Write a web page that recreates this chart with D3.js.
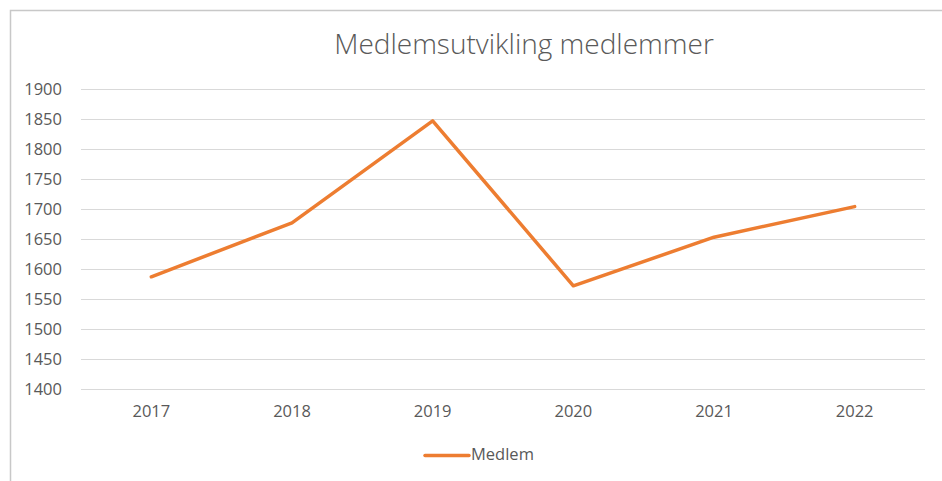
<!DOCTYPE html>
<html>
<head>
<meta charset="utf-8">
<script src="https://cdn.jsdelivr.net/npm/d3@7"></script>
<style>
  body { margin: 0; background: #fff; }
  text { font-family: 'Open Sans', 'Liberation Sans', sans-serif; fill: #595959; }
</style>
</head>
<body>
<div id="chart"></div>
<script>
// data
var years = ['2017', '2018', '2019', '2020', '2021', '2022']
var members = [1587, 1677, 1847, 1572, 1653, 1704]
var yTicks = [1400, 1450, 1500, 1550, 1600, 1650, 1700, 1750, 1800, 1850, 1900]
var seriesName = 'Medlem'
var title = 'Medlemsutvikling medlemmer'

var width = 942
var height = 481
var margin = { top: 89, right: 17, bottom: 92, left: 81 }

var svg = d3.select('#chart')
  .append('svg')
  .attr('width', width)
  .attr('height', height)

// chart border (only top and left show in the picture)
svg.append('rect')
  .attr('x', 10.5)
  .attr('y', 10.5)
  .attr('width', 960)
  .attr('height', 500)
  .attr('fill', 'none')
  .attr('stroke', '#c8c8c8')
  .attr('stroke-width', 1.5)

var x = d3.scaleBand()
  .domain(years)
  .range([margin.left, width - margin.right])

var y = d3.scaleLinear()
  .domain([1400, 1900])
  .range([height - margin.bottom, margin.top])

// gridlines
svg.append('g')
  .selectAll('line')
  .data(yTicks)
  .enter()
  .append('line')
  .attr('x1', margin.left)
  .attr('x2', width - margin.right)
  .attr('y1', function (d) { return Math.round(y(d)) + 0.5 })
  .attr('y2', function (d) { return Math.round(y(d)) + 0.5 })
  .attr('stroke', '#d9d9d9')
  .attr('stroke-width', 1)

// y axis labels
var yAxis = svg.append('g')
  .attr('transform', 'translate(' + (margin.left - 19) + ',0)')
  .call(d3.axisLeft(y).tickValues(yTicks).tickSize(0).tickPadding(0).tickFormat(d3.format('d')))
yAxis.select('.domain').remove()
yAxis.selectAll('text')
  .attr('font-size', 16.5)
  .attr('dy', '0.35em')

// x axis labels
var xAxis = svg.append('g')
  .attr('transform', 'translate(0,' + (height - margin.bottom) + ')')
  .call(d3.axisBottom(x).tickSize(0).tickPadding(16))
xAxis.select('.domain').remove()
xAxis.selectAll('text')
  .attr('font-size', 16.5)

// line
var line = d3.line()
  .x(function (d, i) { return x(years[i]) + x.bandwidth() / 2 })
  .y(function (d) { return y(d) })

svg.append('path')
  .datum(members)
  .attr('d', line)
  .attr('fill', 'none')
  .attr('stroke', '#ed7d31')
  .attr('stroke-width', 3.5)
  .attr('stroke-linejoin', 'round')
  .attr('stroke-linecap', 'round')

// title
svg.append('text')
  .attr('x', 524)
  .attr('y', 54)
  .attr('text-anchor', 'middle')
  .attr('font-size', 28)
  .attr('font-weight', 300)
  .text(title)

// legend
svg.append('line')
  .attr('x1', 425)
  .attr('x2', 469)
  .attr('y1', 455.5)
  .attr('y2', 455.5)
  .attr('stroke', '#ed7d31')
  .attr('stroke-width', 3.5)
  .attr('stroke-linecap', 'round')

svg.append('text')
  .attr('x', 471)
  .attr('y', 454)
  .attr('dy', '0.35em')
  .attr('font-size', 16.5)
  .text(seriesName)
</script>
</body>
</html>
